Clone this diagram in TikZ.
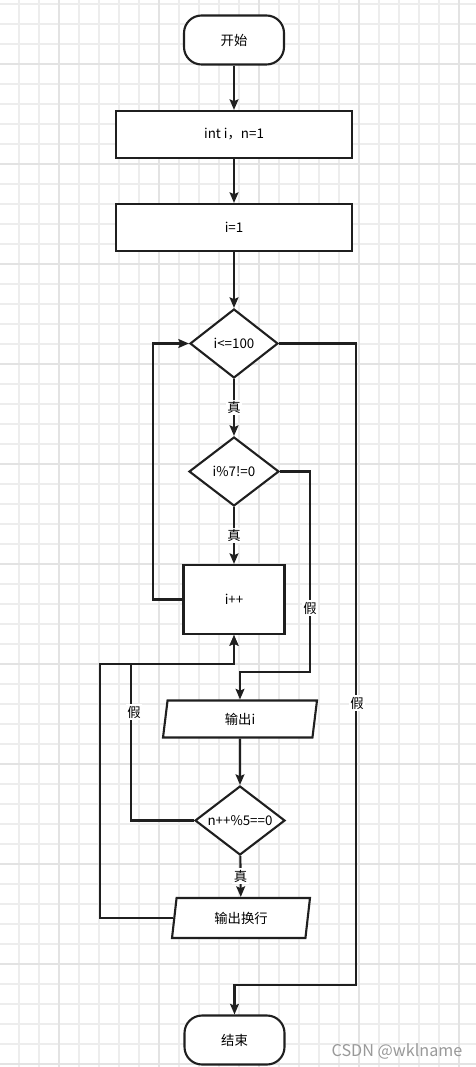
\documentclass[tikz,border=0pt]{standalone}
\usepackage{fontspec}
\setmainfont{Noto Sans CJK SC}
\usetikzlibrary{arrows.meta,shapes.geometric}

\begin{document}
\begin{tikzpicture}[x=0.02cm,y=-0.02cm,
    font=\fontsize{7.6}{9}\selectfont,
    gridminor/.style={draw=black!7,line width=0.6pt},
    gridmajor/.style={draw=black!11,line width=0.9pt},
    box/.style={draw=black!88,line width=1.2pt,fill=white,inner sep=1pt},
    startstop/.style={box,rectangle,rounded corners=0.35cm,minimum width=2cm,minimum height=0.98cm},
    process/.style={box,rectangle,minimum width=4.72cm,minimum height=0.94cm},
    decision/.style={box,diamond,shape aspect=1.3,inner sep=0pt,minimum width=1.8cm,minimum height=1.38cm},
    io/.style={box,trapezium,trapezium left angle=74,trapezium right angle=106,trapezium stretches body,minimum height=0.74cm},
    lbl/.style={fill=white,inner sep=1pt},
    arrow/.style={draw=black!88,line width=1.2pt,-{Stealth[length=6pt,width=5pt,inset=1pt]}}
  ]
  \useasboundingbox (0,0) rectangle (476,1067);
  \fill[white] (0,0) rectangle (476,1067);
  \foreach \gx in {19,39,...,459} \draw[gridminor] (\gx,0) -- (\gx,1067);
  \foreach \gy in {4,24,...,1064} \draw[gridminor] (0,\gy) -- (476,\gy);
  \foreach \gx in {59,159,...,459} \draw[gridmajor] (\gx,0) -- (\gx,1067);
  \foreach \gy in {64,164,...,1064} \draw[gridmajor] (0,\gy) -- (476,\gy);

  \node[startstop] (start) at (234,40) {开始};
  \node[process] (init) at (234,134.5) {int i，n=1};
  \node[process] (seti) at (234,227.5) {i=1};
  \node[decision,minimum width=1.76cm] (cond1) at (234,343.5) {i<=100};
  \node[decision] (cond2) at (234,471.5) {i\%7!=0};
  \node[box,rectangle,minimum width=2.02cm,minimum height=1.38cm] (inc) at (234,599.5) {i++};
  \node[io,minimum width=3.08cm] (out1) at (240,719) {输出i};
  \node[decision] (cond3) at (240,820.5) {n++\%5==0};
  \node[io,minimum width=2.76cm,minimum height=0.8cm] (out2) at (241,918) {输出换行};
  \node[startstop] (stop) at (234.5,1040) {结束};

  \draw[arrow] (start) -- (init);
  \draw[arrow] (init) -- (seti);
  \draw[arrow] (seti) -- (cond1);
  \draw[arrow] (cond1) -- node[lbl] (t1) {真} (cond2);
  \draw[arrow] (cond2) -- node[lbl] (t2) {真} (inc);
  \draw[arrow] (inc.west) -| (153,450) |- (cond1.west);
  \draw[arrow] (cond2.east) -| (310,672) -| (out1.north);
  \draw[arrow] (out1) -- (cond3);
  \draw[arrow] (cond3) -- node[lbl] (t3) {真} (out2);
  \draw[arrow] (cond3.west) -| (131,664) -| (inc.south);
  \draw[arrow] (out2.west) -| (100,664) -| (inc.south);
  \draw[arrow] (cond1.east) -| (356,985) -| (stop.north);

  \node[lbl] (f1) at (357,703) {假};
  \node[lbl] (f2) at (310,608) {假};
  \node[lbl] (f3) at (134,712) {假};
  \node[text=black!40,font=\fontsize{9.2}{11}\selectfont] (mark) at (397,1051) {CSDN @wklname};
\end{tikzpicture}
\end{document}
